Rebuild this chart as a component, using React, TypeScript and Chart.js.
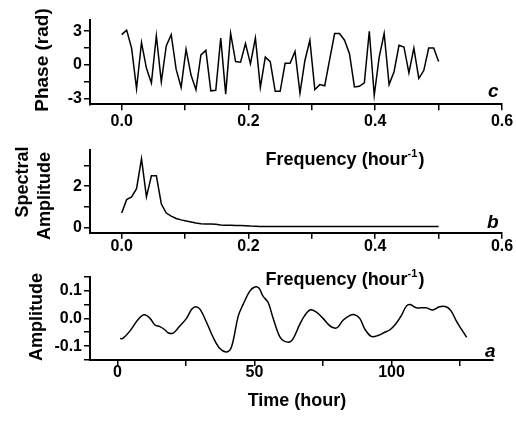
import React, { useEffect, useRef } from 'react';
import { Chart, registerables } from 'chart.js';
Chart.register(...registerables);

// ---------- data ----------
const FREQ_STEP = 1 / 128; // spectral resolution of a 128-hour record

const phaseValues = [
  2.7, 3.1, 1.5, -2.1, 2.0, -0.3, -1.6, 2.6, -1.5, 1.7,
  2.7, -0.4, -2.0, 1.4, -0.9, -2.2, 0.9, 1.3, -2.3, -2.25,
  2.4, -2.6, 2.8, 0.3, 0.25, 1.9, 0.1, 2.4, -2.0, 0.7,
  0.3, -2.35, -2.35, 0.15, 0.15, 1.2, -2.5, 0.4, 2.2, -2.2,
  -1.75, -1.85, 0.5, 2.8, 2.8, 2.2, 1.0, -1.95, -1.9, -1.6,
  3.0, -2.7, 0.7, 2.8, -1.75, -0.6, 1.75, 1.6, -0.7, 1.5,
  -1.2, -0.5, 1.5, 1.5, 0.3,
];

const spectralValues = [
  0.7, 1.35, 1.48, 1.88, 3.33, 1.48, 2.5, 2.5, 1.15, 0.7,
  0.55, 0.44, 0.37, 0.32, 0.27, 0.22, 0.18, 0.17, 0.17, 0.16,
  0.12, 0.11, 0.11, 0.1, 0.1, 0.09, 0.07, 0.06, 0.05, 0.05,
  0.05, 0.05, 0.05, 0.05, 0.05, 0.05, 0.05, 0.05, 0.05, 0.05,
  0.05, 0.05, 0.05, 0.05, 0.05, 0.05, 0.05, 0.05, 0.05, 0.05,
  0.05, 0.05, 0.05, 0.05, 0.05, 0.05, 0.05, 0.05, 0.05, 0.05,
  0.05, 0.05, 0.05, 0.05, 0.05,
];

const timeHours = [
  1, 2, 4.6, 7.7, 9.8, 11.9, 13.7, 15.5, 17.4, 18.6,
  20.4, 22.2, 25.2, 27.1, 28.5, 30.1, 32.5, 34.9, 37.4, 39.8,
  41.6, 44.1, 45.9, 48.3, 50.1, 51.6, 53.1, 55.0, 56.8, 59.2,
  61.0, 63.5, 66.5, 68.3, 70.4, 72.6, 75.0, 77.4, 79.2, 80.4,
  82.3, 84.7, 86.5, 88.4, 90.2, 92.6, 95.0, 97.5, 99.3, 101.5,
  103.5, 105.4, 106.8, 109.0, 112.6, 115.0, 117.5, 119.9, 121.7, 123.6,
  125.4, 127.4,
];
const amplitudeValues = [
  -0.073, -0.072, -0.045, -0.002, 0.013, 0.0, -0.024, -0.03, -0.042, -0.053,
  -0.053, -0.034, 0.0, 0.033, 0.042, 0.033, -0.014, -0.068, -0.109, -0.121,
  -0.103, 0.009, 0.051, 0.098, 0.113, 0.109, 0.08, 0.057, 0.0, -0.066,
  -0.083, -0.081, -0.022, 0.01, 0.031, 0.022, 0.0, -0.026, -0.035, -0.032,
  -0.007, 0.01, 0.013, 0.0, -0.038, -0.065, -0.062, -0.05, -0.042, -0.02,
  0.009, 0.044, 0.05, 0.038, 0.038, 0.03, 0.042, 0.042, 0.027, -0.009,
  -0.038, -0.068,
];

// ticks
const freqTickValues = [0, 0.1, 0.2, 0.3, 0.4, 0.5, 0.6];
const freqTickLabels = ['0.0', '', '0.2', '', '0.4', '', '0.6'];
const phaseTickValues = [-3, -1.5, 0, 1.5, 3];
const phaseTickLabels = ['-3', '', '0', '', '3'];
const spectralTickValues = [0, 1, 2, 3];
const spectralTickLabels = ['0', '', '2', ''];
const timeTickValues = [0, 25, 50, 75, 100, 125];
const timeTickLabels = ['0', '', '50', '', '100', ''];
const ampTickValues = [-0.15, -0.1, -0.05, 0, 0.05, 0.1, 0.15];
const ampTickLabels = ['', '-0.1', '', '0.0', '', '0.1', ''];

// ---------- layout ----------
const W = 516;
const H = 426;
const FONT = '"Liberation Sans", Arial, Helvetica, sans-serif';

type TextItem = (ctx: CanvasRenderingContext2D) => void;

function rotText(text: string, x: number, y: number, size = 18) {
  return (ctx: CanvasRenderingContext2D) => {
    ctx.save();
    ctx.font = `bold ${size}px ${FONT}`;
    ctx.fillStyle = '#000';
    ctx.translate(x, y);
    ctx.rotate(-Math.PI / 2);
    ctx.textAlign = 'center';
    ctx.textBaseline = 'middle';
    ctx.fillText(text, 0, 0);
    ctx.restore();
  };
}
function plainText(text: string, cx: number, baseline: number, size = 18, italic = false, align: CanvasTextAlign = 'center') {
  return (ctx: CanvasRenderingContext2D) => {
    ctx.save();
    ctx.font = `${italic ? 'italic ' : ''}bold ${size}px ${FONT}`;
    ctx.fillStyle = '#000';
    ctx.textAlign = align;
    ctx.textBaseline = 'alphabetic';
    ctx.fillText(text, cx, baseline);
    ctx.restore();
  };
}
function freqTitle(cx: number, baseline: number) {
  return (ctx: CanvasRenderingContext2D) => {
    ctx.save();
    ctx.fillStyle = '#000';
    ctx.textAlign = 'left';
    ctx.textBaseline = 'alphabetic';
    const main = `bold 18px ${FONT}`;
    const sup = `bold 11px ${FONT}`;
    ctx.font = main;
    const a = 'Frequency (hour';
    const wa = ctx.measureText(a).width;
    const wc = ctx.measureText(')').width;
    ctx.font = sup;
    const b = '-1';
    const wb = ctx.measureText(b).width;
    const total = wa + wb + wc + 1;
    let x = cx - total / 2;
    ctx.font = main;
    ctx.fillText(a, x, baseline);
    x += wa;
    ctx.font = sup;
    ctx.fillText(b, x, baseline - 8);
    x += wb + 1;
    ctx.font = main;
    ctx.fillText(')', x, baseline);
    ctx.restore();
  };
}

interface PanelOpts {
  points: { x: number; y: number }[];
  xMin: number; xMax: number; yMin: number; yMax: number;
  xTicks: number[]; xLabels: string[];
  yTicks: number[]; yLabels: string[];
  top: number; bottom: number; right: number;
  xLabelPad: number;
  tension: number;
  texts: TextItem[];
}

function buildConfig(o: PanelOpts): any {
  const tickFont = { family: FONT, size: 16, weight: 'bold' as const };
  const grid = { display: true, drawOnChartArea: false, drawTicks: true, tickLength: 6, color: '#000', lineWidth: 1.5 };
  const border = { display: true, color: '#000', width: 2 };
  return {
    type: 'line',
    data: {
      datasets: [{
        data: o.points,
        borderColor: '#000',
        borderWidth: 1.5,
        pointRadius: 0,
        fill: false,
        tension: o.tension,
      }],
    },
    options: {
      animation: false,
      responsive: false,
      maintainAspectRatio: false,
      parsing: false,
      layout: { padding: { left: 0, right: W - o.right, top: o.top, bottom: 0 } },
      plugins: { legend: { display: false }, tooltip: { enabled: false }, title: { display: false } },
      scales: {
        x: {
          type: 'linear', min: o.xMin, max: o.xMax,
          afterBuildTicks: (s: any) => { s.ticks = o.xTicks.map((v) => ({ value: v })); },
          afterFit: (s: any) => { s.height = H - o.bottom; },
          ticks: {
            autoSkip: false, maxRotation: 0, minRotation: 0, padding: o.xLabelPad, color: '#000', font: tickFont,
            callback: (_v: any, i: number) => o.xLabels[i],
          },
          grid, border,
        },
        y: {
          type: 'linear', min: o.yMin, max: o.yMax,
          afterBuildTicks: (s: any) => { s.ticks = o.yTicks.map((v) => ({ value: v })); },
          afterFit: (s: any) => { s.width = 90; },
          ticks: {
            autoSkip: false, padding: 2, color: '#000', font: tickFont,
            callback: (_v: any, i: number) => o.yLabels[i],
          },
          grid, border,
        },
      },
    },
    plugins: [{
      id: 'panelTexts',
      afterDraw: (chart: any) => { o.texts.forEach((t) => t(chart.ctx)); },
    }],
  };
}

function Panel({ opts }: { opts: PanelOpts }) {
  const ref = useRef<HTMLCanvasElement>(null);
  useEffect(() => {
    if (!ref.current) return;
    const chart = new Chart(ref.current, buildConfig(opts));
    return () => chart.destroy();
  }, [opts]);
  return (
    <canvas
      ref={ref}
      width={W}
      height={H}
      style={{ position: 'absolute', left: 0, top: 0, width: W, height: H }}
    />
  );
}

const phasePanel: PanelOpts = {
  points: phaseValues.map((v, i) => ({ x: i * FREQ_STEP, y: v })),
  xMin: -0.05, xMax: 0.6, yMin: -3.5, yMax: 4,
  xTicks: freqTickValues, xLabels: freqTickLabels,
  yTicks: phaseTickValues, yLabels: phaseTickLabels,
  top: 20, bottom: 104.3, right: 502, xLabelPad: 2, tension: 0,
  texts: [
    rotText('Phase (rad)', 43, 60, 19),
    plainText('c', 488, 97, 19, true, 'left'),
    freqTitle(345, 165),
  ],
};

const spectralPanel: PanelOpts = {
  points: spectralValues.map((v, i) => ({ x: i * FREQ_STEP, y: v })),
  xMin: -0.05, xMax: 0.6, yMin: -0.25, yMax: 3.75,
  xTicks: freqTickValues, xLabels: freqTickLabels,
  yTicks: spectralTickValues, yLabels: spectralTickLabels,
  top: 150, bottom: 232.7, right: 502, xLabelPad: -2, tension: 0,
  texts: [
    rotText('Spectral', 23, 182),
    rotText('Amplitude', 45, 196),
    plainText('b', 487, 228, 19, true, 'left'),
    freqTitle(345, 285),
  ],
};

const amplitudePanel: PanelOpts = {
  points: timeHours.map((t, i) => ({ x: t, y: amplitudeValues[i] })),
  xMin: -10, xMax: 137, yMin: -0.15, yMax: 0.15,
  xTicks: timeTickValues, xLabels: timeTickLabels,
  yTicks: ampTickValues, yLabels: ampTickLabels,
  top: 276.7, bottom: 360, right: 493, xLabelPad: -3, tension: 0.35,
  texts: [
    rotText('Amplitude', 37, 317),
    plainText('a', 485, 357, 19, true, 'left'),
    plainText('Time (hour)', 297, 406, 18),
  ],
};

export default function App() {
  return (
    <div style={{ position: 'fixed', left: 0, top: 0, width: W, height: H, background: '#fff', overflow: 'hidden' }}>
      <Panel opts={phasePanel} />
      <Panel opts={spectralPanel} />
      <Panel opts={amplitudePanel} />
    </div>
  );
}
